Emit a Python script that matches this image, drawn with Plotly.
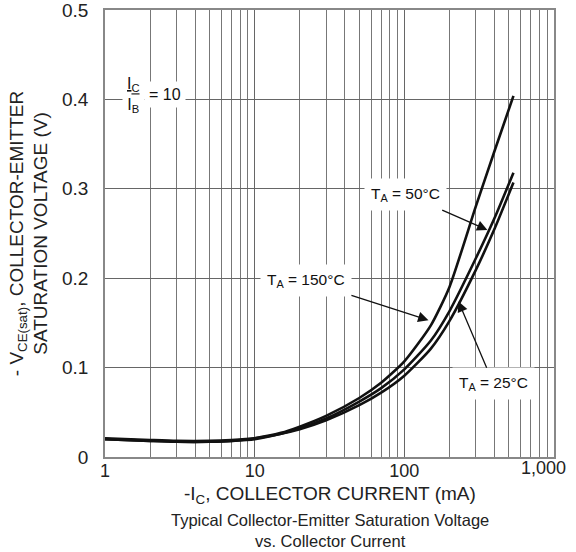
import math
import plotly.graph_objects as go

# Collector current (mA)
current_ma = [1, 2, 3, 5, 7, 10, 15, 20, 30, 50, 70, 100, 150, 200, 300, 400, 536]
# VCE(sat) (V) per ambient temperature
vce_150c = [0.020, 0.018, 0.017, 0.017, 0.018, 0.021, 0.027, 0.034, 0.046, 0.066, 0.083, 0.107, 0.147, 0.190, 0.280, 0.342, 0.404]
vce_50c = [0.020, 0.018, 0.017, 0.017, 0.018, 0.020, 0.026, 0.032, 0.043, 0.062, 0.077, 0.098, 0.130, 0.163, 0.222, 0.267, 0.318]
vce_25c = [0.021, 0.019, 0.018, 0.018, 0.019, 0.021, 0.026, 0.031, 0.041, 0.058, 0.072, 0.091, 0.121, 0.152, 0.209, 0.255, 0.307]

x_tickvals = [1, 10, 100, 1000]
x_ticktext = ["1", "10", "100", ""]
x_last_label = "1,000"
y_tickvals = [0, 0.1, 0.2, 0.3, 0.4, 0.5]
y_ticktext = ["0", "0.1", "0.2", "0.3", "0.4", "0.5"]

FONT = "Liberation Sans, Arial, sans-serif"
INK = "#111111"
TXT = "#222222"
LINE = dict(color=INK, width=2.6, shape="spline", smoothing=0.6)

fig = go.Figure()
for name, ys in [("150", vce_150c), ("50", vce_50c), ("25", vce_25c)]:
    fig.add_trace(go.Scatter(x=current_ma, y=ys, mode="lines", line=LINE,
                             name=name, showlegend=False, hoverinfo="skip"))

ann_font = dict(family=FONT, size=15.5, color=INK)
arrow = dict(showarrow=True, arrowhead=2, arrowsize=1.6, arrowwidth=1.3,
             arrowcolor=INK, axref="x", ayref="y", xref="x", yref="y",
             bgcolor="white", borderpad=6, font=ann_font)

fig.add_annotation(text="T<sub>A</sub> = 50°C", x=math.log10(359), y=0.254,
                   ax=math.log10(102), ay=0.294, **arrow)
fig.add_annotation(text="T<sub>A</sub> = 150°C", x=math.log10(145), y=0.153,
                   ax=math.log10(22), ay=0.197, **arrow)
fig.add_annotation(text="T<sub>A</sub> = 25°C", x=math.log10(230), y=0.174,
                   ax=math.log10(394), ay=0.082, **arrow)

# IC / IB = 10
fig.add_annotation(text="<u>I<sub>C</sub></u><br>I<sub>B</sub>", x=math.log10(1.55), y=0.405,
                   xref="x", yref="y", showarrow=False, bgcolor="white", borderpad=4,
                   font=dict(family=FONT, size=16, color=INK))
fig.add_annotation(text="= 10", x=math.log10(2.5), y=0.405,
                   xref="x", yref="y", showarrow=False, bgcolor="white", borderpad=4,
                   font=dict(family=FONT, size=16, color=INK))

# last x tick label, pulled inside like the reference
fig.add_annotation(text=x_last_label, x=3, y=0, xref="x", yref="paper",
                   xanchor="right", yanchor="top", xshift=14, yshift=1,
                   showarrow=False, font=dict(family=FONT, size=18, color=TXT))

# x-axis title
fig.add_annotation(text="-I<sub>C</sub>, COLLECTOR CURRENT (mA)",
                   x=0.5, y=-0.086, xref="paper", yref="paper", showarrow=False,
                   xanchor="center", yanchor="middle",
                   font=dict(family=FONT, size=19, color=TXT))

# Caption
fig.add_annotation(text="Typical Collector-Emitter Saturation Voltage<br>vs. Collector Current",
                   x=0.5, y=-0.117, xref="paper", yref="paper", showarrow=False,
                   xanchor="center", yanchor="top",
                   font=dict(family=FONT, size=16.5, color=TXT))

fig.update_xaxes(type="log", range=[0, 3], tickvals=x_tickvals, ticktext=x_ticktext,
                 showgrid=True, gridcolor="#666666", gridwidth=1,
                 showline=True, linecolor="#888888", linewidth=1.5, mirror=True,
                 ticks="", ticklabelstandoff=-3,
                 minor=dict(dtick="D1", showgrid=True, gridcolor="#777777", gridwidth=1, ticks=""),
                 tickfont=dict(family=FONT, size=18, color=TXT),
                 zeroline=False)
fig.update_yaxes(range=[0, 0.5], tickvals=y_tickvals, ticktext=y_ticktext,
                 showgrid=True, gridcolor="#666666", gridwidth=1,
                 showline=True, linecolor="#888888", linewidth=1.5, mirror=True,
                 ticks="", ticklabelstandoff=11, ticklabeloverflow="allow",
                 tickfont=dict(family=FONT, size=19, color=TXT),
                 title=dict(text="- V<sub>CE(sat)</sub>, COLLECTOR-EMITTER<br>SATURATION VOLTAGE (V)",
                            standoff=9, font=dict(family=FONT, size=19, color=TXT)),
                 zeroline=False)

fig.update_layout(width=576, height=552, margin=dict(l=105, r=22, t=10, b=95, autoexpand=False),
                  plot_bgcolor="white", paper_bgcolor="white",
                  font=dict(family=FONT))

fig.write_html("out.html", config={"displayModeBar": False},
               post_script="document.body.style.margin='0';")
